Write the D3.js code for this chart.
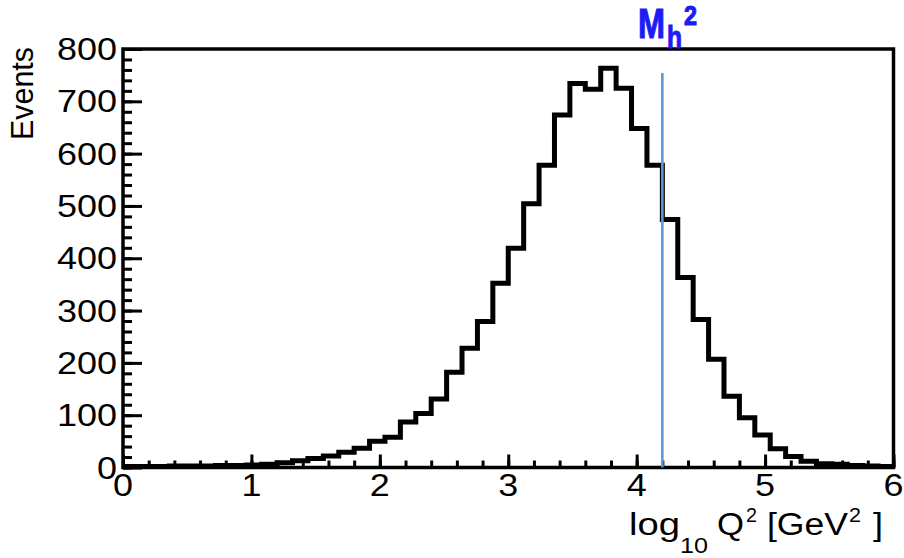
<!DOCTYPE html>
<html>
<head>
<meta charset="utf-8">
<script src="https://cdn.jsdelivr.net/npm/d3@7/dist/d3.min.js"></script>
<style>
  html, body { margin: 0; padding: 0; background: #ffffff; }
  svg { display: block; }
  text { font-family: "Liberation Sans", Arial, Helvetica, sans-serif; }
</style>
</head>
<body>
<svg id="chart" width="904" height="558"></svg>
<script>
// Histogram of log10 Q^2 : 50 equal bins between 0 and 6
const xMin = 0, xMax = 6, nBins = 50;
const counts = [
  2, 2, 2, 3, 3, 3, 4, 4, 5, 6,
  9, 13, 17, 22, 29, 37, 50, 58, 87, 103,
  131, 182, 228, 279, 352, 419, 504, 578, 674, 734,
  723, 763, 725, 648, 578, 474, 363, 283, 207, 136,
  95, 62, 36, 21, 12, 7, 6, 4, 3, 2
];
const xTickLabels = [0, 1, 2, 3, 4, 5, 6];
const yTickLabels = [0, 100, 200, 300, 400, 500, 600, 700, 800];
const higgsMassSq = 4.2;   // log10(M_h^2)

const svg = d3.select("#chart");
const x = d3.scaleLinear().domain([xMin, xMax]).range([123, 893.5]);
const y = d3.scaleLinear().domain([0, 800]).range([467.5, 49]);

// axis ticks (pointing into the frame)
const xMinor = d3.range(0, 6.001, 0.2).map(v => +v.toFixed(1));
const yMinor = d3.range(0, 801, 20);

function ticks(axis, tf) {
  svg.append("g").attr("transform", tf)
    .call(axis.tickFormat(""))
    .call(g => g.select(".domain").remove())
    .call(g => g.selectAll("line").attr("stroke", "#000").attr("stroke-width", 3));
}
ticks(d3.axisBottom(x).tickValues(xMinor).tickSize(-7), `translate(0,${y(0)})`);
ticks(d3.axisBottom(x).tickValues(xTickLabels).tickSize(-13), `translate(0,${y(0)})`);
ticks(d3.axisLeft(y).tickValues(yMinor).tickSize(-9), `translate(${x(0)},0)`);
ticks(d3.axisLeft(y).tickValues(yTickLabels).tickSize(-19), `translate(${x(0)},0)`);

// histogram outline as a step line
const binW = (xMax - xMin) / nBins;
const pts = [];
counts.forEach((c, i) => {
  const lo = xMin + i * binW, hi = lo + binW;
  pts.push([x(lo), y(c)], [x(hi), y(c)]);
});
svg.append("path")
  .attr("d", d3.line()(pts))
  .attr("fill", "none")
  .attr("stroke", "#000")
  .attr("stroke-width", 5)
  .attr("stroke-linejoin", "miter")
  .attr("stroke-linecap", "butt");

// frame
svg.append("rect")
  .attr("x", x(xMin)).attr("y", y(800))
  .attr("width", x(xMax) - x(xMin)).attr("height", y(0) - y(800))
  .attr("fill", "none").attr("stroke", "#000").attr("stroke-width", 3.5);

// M_h^2 marker line
svg.append("line")
  .attr("x1", x(higgsMassSq)).attr("x2", x(higgsMassSq))
  .attr("y1", 73).attr("y2", y(0))
  .attr("stroke", "#5b9bd5").attr("stroke-width", 2.6);

// tick labels
svg.append("g").selectAll("text").data(yTickLabels).join("text")
  .attr("x", 117).attr("y", d => y(d) + 11)
  .attr("text-anchor", "end")
  .attr("font-size", 31)
  .attr("textLength", d => String(d).length * 20)
  .attr("lengthAdjust", "spacingAndGlyphs")
  .style("fill", "#000")
  .text(d => d);
svg.append("g").selectAll("text").data(xTickLabels).join("text")
  .attr("x", d => x(d)).attr("y", 496)
  .attr("text-anchor", "middle")
  .attr("font-size", 31)
  .attr("textLength", 20)
  .attr("lengthAdjust", "spacingAndGlyphs")
  .style("fill", "#000")
  .text(d => d);

// axis titles
svg.append("text")
  .attr("transform", "translate(33,47) rotate(-90)")
  .attr("text-anchor", "end")
  .attr("font-size", 31)
  .attr("textLength", 93)
  .attr("lengthAdjust", "spacingAndGlyphs")
  .style("fill", "#000")
  .text("Events");

function piece(t, px, py, size, len, opts = {}) {
  const el = svg.append("text")
    .attr("x", px).attr("y", py).attr("font-size", size)
    .attr("font-family", opts.family || null)
    .attr("font-weight", opts.weight || null)
    .attr("textLength", len).attr("lengthAdjust", "spacingAndGlyphs")
    .style("fill", opts.color || "#000")
    .text(t);
  if (opts.stroke) el.style("stroke", opts.color).style("stroke-width", opts.stroke);
  return el;
}
piece("log", 629, 535, 31, 51);
piece("10", 680, 553, 22, 28);
piece("Q", 717, 535, 31, 27);
piece("2", 746, 522, 21, 11);
piece("[GeV", 767, 535, 31, 81);
piece("2", 849, 522, 21, 12);
piece("]", 873, 535, 31, 10);

// M_h^2 label
const blueFont = {
  family: "'Liberation Sans Narrow', 'DejaVu Sans Condensed', sans-serif",
  weight: "bold", color: "#1c1cf5", stroke: 1.1
};
piece("M", 638, 38, 42, 27, blueFont);
piece("h", 667, 48, 32, 15, blueFont);
piece("2", 684, 25, 28, 13, blueFont);
</script>
</body>
</html>
